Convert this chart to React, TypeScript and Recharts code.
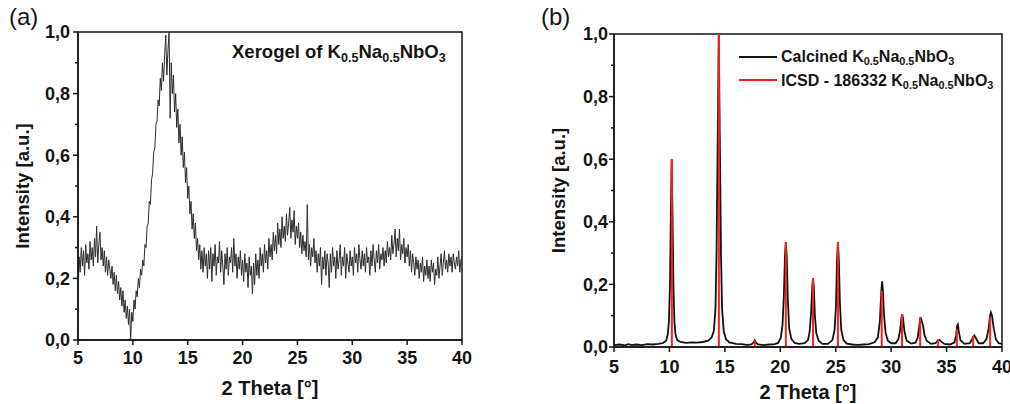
import { LineChart, Line, XAxis, YAxis, ReferenceArea } from "recharts";

const FONT = '"Liberation Sans", Arial, sans-serif';
const INK = "#151515";

// 2θ axis and intensity ticks shared by both panels
const thetaTicks = [5, 10, 15, 20, 25, 30, 35, 40];
const intensityTicks = [0, 0.1, 0.2, 0.3, 0.4, 0.5, 0.6, 0.7, 0.8, 0.9, 1.0];

// (a) xerogel pattern, one reading every 0.1° from 5° to 40°
const xerogelStart = 5;
const xerogelStep = 0.1;
const xerogelIntensity = [
  0.13, 0.27, 0.22, 0.30, 0.24, 0.29, 0.21, 0.31, 0.25, 0.28,
  0.23, 0.32, 0.26, 0.30, 0.24, 0.33, 0.27, 0.37, 0.25, 0.31,
  0.35, 0.26, 0.30, 0.24, 0.29, 0.22, 0.27, 0.21, 0.26, 0.23,
  0.20, 0.24, 0.18, 0.22, 0.16, 0.21, 0.15, 0.19, 0.13, 0.17,
  0.11, 0.16, 0.09, 0.13, 0.07, 0.11, 0.05, 0.10, 0.0, 0.09,
  0.06, 0.13, 0.10, 0.16, 0.14, 0.20, 0.17, 0.23, 0.21, 0.26,
  0.24, 0.31, 0.30, 0.37, 0.38, 0.45, 0.44, 0.52, 0.54, 0.61,
  0.62, 0.70, 0.71, 0.78, 0.76, 0.85, 0.81, 0.90, 0.84, 0.93,
  0.99, 0.86, 0.94, 1.0, 0.72, 0.90, 0.80, 0.86, 0.74, 0.80,
  0.69, 0.75, 0.64, 0.70, 0.60, 0.66, 0.56, 0.61, 0.51, 0.56,
  0.46, 0.50, 0.41, 0.45, 0.36, 0.41, 0.33, 0.38, 0.29, 0.33,
  0.26, 0.31, 0.23, 0.29, 0.22, 0.30, 0.24, 0.28, 0.20, 0.29,
  0.23, 0.30, 0.19, 0.28, 0.24, 0.31, 0.21, 0.27, 0.25, 0.32,
  0.22, 0.29, 0.24, 0.18, 0.28, 0.23, 0.30, 0.21, 0.27, 0.25,
  0.30, 0.22, 0.33, 0.24, 0.28, 0.20, 0.27, 0.23, 0.29, 0.21,
  0.26, 0.19, 0.28, 0.22, 0.25, 0.17, 0.27, 0.21, 0.24, 0.15,
  0.25, 0.18, 0.28, 0.21, 0.26, 0.20, 0.30, 0.24, 0.28, 0.22,
  0.31, 0.25, 0.29, 0.23, 0.33, 0.27, 0.31, 0.26, 0.35, 0.29,
  0.34, 0.28, 0.38, 0.31, 0.36, 0.30, 0.40, 0.33, 0.37, 0.32,
  0.41, 0.34, 0.38, 0.43, 0.33, 0.39, 0.35, 0.42, 0.31, 0.37,
  0.33, 0.38, 0.30, 0.35, 0.28, 0.34, 0.29, 0.32, 0.27, 0.44,
  0.26, 0.31, 0.24, 0.30, 0.27, 0.33, 0.25, 0.29, 0.22, 0.28,
  0.24, 0.30, 0.18, 0.27, 0.23, 0.29, 0.21, 0.28, 0.25, 0.17,
  0.28, 0.22, 0.30, 0.24, 0.27, 0.20, 0.29, 0.23, 0.26, 0.31,
  0.21, 0.27, 0.24, 0.30, 0.20, 0.28, 0.25, 0.22, 0.29, 0.24,
  0.27, 0.21, 0.30, 0.25, 0.28, 0.22, 0.31, 0.26, 0.23, 0.29,
  0.24, 0.28, 0.22, 0.30, 0.25, 0.27, 0.21, 0.29, 0.24, 0.31,
  0.26, 0.22, 0.29, 0.25, 0.31, 0.23, 0.28, 0.26, 0.30, 0.24,
  0.29, 0.25, 0.32, 0.27, 0.30, 0.26, 0.34, 0.28, 0.31, 0.36,
  0.27, 0.33, 0.29, 0.36, 0.26, 0.31, 0.28, 0.33, 0.25, 0.30,
  0.27, 0.31, 0.24, 0.29, 0.22, 0.28, 0.25, 0.21, 0.27, 0.23,
  0.26, 0.20, 0.25, 0.22, 0.27, 0.19, 0.24, 0.21, 0.26, 0.20,
  0.24, 0.19, 0.26, 0.22, 0.25, 0.18, 0.23, 0.21, 0.27, 0.20,
  0.24, 0.28, 0.21, 0.25, 0.29, 0.23, 0.26, 0.22, 0.28, 0.24,
  0.27, 0.22, 0.28, 0.25, 0.23, 0.27, 0.24, 0.29, 0.22, 0.26,
  0.27,
];

// (b) calcined powder, [2θ, intensity]
const calcined: [number, number][] = [
  [5, 0.006], [5.5, 0.008], [6, 0.005], [6.3, 0.009], [6.6, 0.006], [7, 0.008],
  [7.5, 0.006], [8, 0.009], [8.5, 0.008], [9, 0.01], [9.4, 0.012], [9.7, 0.02],
  [9.85, 0.04], [9.95, 0.08], [10.05, 0.2], [10.12, 0.4], [10.2, 0.6], [10.28, 0.42],
  [10.36, 0.2], [10.45, 0.08], [10.55, 0.04], [10.7, 0.022], [11, 0.016], [11.5, 0.013],
  [12, 0.015], [12.5, 0.014], [13, 0.016], [13.5, 0.02], [13.8, 0.03], [14, 0.05],
  [14.15, 0.12], [14.25, 0.3], [14.35, 0.65], [14.45, 1.0], [14.55, 0.65], [14.65, 0.3],
  [14.75, 0.12], [14.9, 0.05], [15.1, 0.025], [15.4, 0.015], [16, 0.01], [16.5, 0.009],
  [17, 0.007], [17.4, 0.008], [17.6, 0.015], [17.7, 0.021], [17.8, 0.014], [18, 0.008],
  [18.5, 0.006], [19, 0.008], [19.5, 0.009], [19.8, 0.013], [20.05, 0.03], [20.2, 0.07],
  [20.32, 0.16], [20.42, 0.29], [20.5, 0.335], [20.58, 0.29], [20.68, 0.15], [20.8, 0.06],
  [21, 0.025], [21.3, 0.013], [21.7, 0.01], [22.2, 0.012], [22.5, 0.022], [22.65, 0.05],
  [22.78, 0.11], [22.88, 0.19], [22.95, 0.22], [23.03, 0.19], [23.12, 0.1], [23.25, 0.045],
  [23.45, 0.02], [23.8, 0.01], [24.3, 0.01], [24.7, 0.022], [24.9, 0.055], [25.02, 0.13],
  [25.12, 0.28], [25.2, 0.335], [25.28, 0.28], [25.38, 0.14], [25.5, 0.055], [25.7, 0.022],
  [26, 0.011], [26.5, 0.008], [27, 0.007], [27.5, 0.008], [28, 0.009], [28.5, 0.015],
  [28.8, 0.03], [28.98, 0.08], [29.1, 0.17], [29.18, 0.21], [29.26, 0.18], [29.36, 0.1],
  [29.5, 0.045], [29.7, 0.02], [30, 0.012], [30.4, 0.012], [30.65, 0.025], [30.82, 0.055],
  [30.93, 0.095], [31, 0.105], [31.08, 0.09], [31.2, 0.05], [31.4, 0.02], [31.8, 0.011],
  [32.2, 0.014], [32.4, 0.03], [32.55, 0.07], [32.65, 0.095], [32.75, 0.085], [32.88, 0.068],
  [33, 0.04], [33.2, 0.02], [33.6, 0.01], [34, 0.012], [34.2, 0.02], [34.35, 0.023],
  [34.5, 0.018], [34.8, 0.01], [35.3, 0.008], [35.7, 0.014], [35.85, 0.035], [35.95, 0.068],
  [36.02, 0.072], [36.1, 0.05], [36.25, 0.022], [36.6, 0.01], [37.1, 0.012], [37.35, 0.028],
  [37.5, 0.037], [37.65, 0.028], [37.9, 0.012], [38.3, 0.012], [38.6, 0.025], [38.8, 0.06],
  [38.92, 0.1], [39, 0.11], [39.1, 0.1], [39.25, 0.06], [39.45, 0.025], [39.7, 0.012],
  [40, 0.01],
];

// ICSD 186332 reference reflections
const icsdTheta = [10.22, 14.46, 17.7, 20.5, 22.95, 25.2, 29.15, 30.98, 32.62, 34.25, 35.93, 37.4, 38.93];
const icsdIntensity = [0.6, 1.0, 0.022, 0.335, 0.22, 0.335, 0.18, 0.105, 0.095, 0.025, 0.058, 0.035, 0.095];

const xerogelData = xerogelIntensity.map((y, i) => ({
  x: +(xerogelStart + i * xerogelStep).toFixed(2),
  y,
}));
const calcinedData = calcined.map(([x, y]) => ({ x, y }));
// each reflection is a vertical stick: 0 -> height, then a gap
const icsdData = icsdTheta.flatMap((x, i) => [
  { x, y: 0 },
  { x, y: icsdIntensity[i] },
  { x, y: null },
]);

const TICK_LEN = 5;
const fmt = (v: number) => v.toFixed(1).replace(".", ",");

const makeYTick = (gap: number) => (props: any) => {
  const { x, y, payload } = props;
  const v = payload.value as number;
  const major = Math.round(v * 10) % 2 === 0;
  const ax = x + TICK_LEN + gap;
  return (
    <g>
      <line x1={ax} x2={ax - (major ? TICK_LEN : 3)} y1={y} y2={y} stroke={INK} strokeWidth={1.5} />
      {major && (
        <text x={x} y={y} dy="0.36em" textAnchor="end" fontSize={18} fontWeight={700} fill={INK} fontFamily={FONT}>
          {fmt(v)}
        </text>
      )}
    </g>
  );
};

const tickFont = { fontSize: 18, fontWeight: 700, fill: INK, fontFamily: FONT };
const titleFont = { fontSize: 20, fontWeight: 700, fill: INK, fontFamily: FONT };

const Sub = ({ children }: { children: string }) => (
  <span style={{ fontSize: "0.68em", verticalAlign: "-0.32em", lineHeight: 0 }}>{children}</span>
);

const Formula = () => (
  <>
    K<Sub>0.5</Sub>Na<Sub>0.5</Sub>NbO<Sub>3</Sub>
  </>
);

const abs = (left: number, top: number, extra: React.CSSProperties = {}): React.CSSProperties => ({
  position: "absolute",
  left,
  top,
  whiteSpace: "nowrap",
  lineHeight: 1,
  color: INK,
  fontFamily: FONT,
  ...extra,
});

export default function App() {
  return (
    <div style={{ position: "absolute", left: 0, top: 0, width: 1010, height: 404, background: "#fff", overflow: "hidden" }}>
      <div style={{ position: "absolute", left: 0, top: 0 }}>
        <LineChart width={480} height={404} margin={{ top: 32, right: 18, bottom: 4, left: 0 }}>
          <XAxis
            type="number"
            dataKey="x"
            domain={[5, 40]}
            ticks={thetaTicks}
            interval={0}
            allowDataOverflow
            height={60}
            tickSize={TICK_LEN}
            tickMargin={6}
            axisLine={{ stroke: INK, strokeWidth: 1.5 }}
            tickLine={{ stroke: INK, strokeWidth: 1.5 }}
            tick={tickFont}
            label={{ value: "2 Theta [°]", position: "insideBottom", offset: 5, ...titleFont }}
          />
          <YAxis
            type="number"
            domain={[0, 1]}
            ticks={intensityTicks}
            interval={0}
            allowDataOverflow
            width={78}
            tickSize={TICK_LEN}
            tickMargin={3}
            tickLine={false}
            axisLine={{ stroke: INK, strokeWidth: 1.5 }}
            tick={makeYTick(3)}
            label={{
              value: "Intensity [a.u.]",
              angle: -90,
              position: "insideLeft",
              offset: 22,
              style: { textAnchor: "middle" },
              ...titleFont,
              fontSize: 18.5,
            }}
          />
          <Line
            data={xerogelData}
            dataKey="y"
            type="linear"
            stroke="#2c2c2c"
            strokeWidth={1}
            dot={false}
            isAnimationActive={false}
          />
          <ReferenceArea x1={5} x2={40} y1={0} y2={1} fill="none" stroke={INK} strokeWidth={1.5} ifOverflow="visible" />
        </LineChart>
      </div>

      <div style={{ position: "absolute", left: 520, top: 0 }}>
        <LineChart width={490} height={404} margin={{ top: 34, right: 8, bottom: 4, left: 0 }}>
          <XAxis
            type="number"
            dataKey="x"
            domain={[5, 40]}
            ticks={thetaTicks}
            interval={0}
            allowDataOverflow
            height={53}
            tickSize={TICK_LEN}
            tickMargin={8}
            axisLine={{ stroke: INK, strokeWidth: 1.5 }}
            tickLine={{ stroke: INK, strokeWidth: 1.5 }}
            tick={tickFont}
            label={{ value: "2 Theta [°]", position: "insideBottom", offset: 1, ...titleFont }}
          />
          <YAxis
            type="number"
            domain={[0, 1]}
            ticks={intensityTicks}
            interval={0}
            allowDataOverflow
            width={94}
            tickSize={TICK_LEN}
            tickMargin={1}
            tickLine={false}
            axisLine={{ stroke: INK, strokeWidth: 1.5 }}
            tick={makeYTick(1)}
            label={{
              value: "Intensity [a.u.]",
              angle: -90,
              position: "insideLeft",
              offset: 38,
              style: { textAnchor: "middle" },
              ...titleFont,
              fontSize: 18.5,
            }}
          />
          <Line
            data={calcinedData}
            dataKey="y"
            type="linear"
            stroke="#111"
            strokeWidth={1.8}
            dot={false}
            isAnimationActive={false}
          />
          <Line
            data={icsdData}
            dataKey="y"
            type="linear"
            stroke="#ff1f1f"
            strokeWidth={2}
            dot={false}
            connectNulls={false}
            isAnimationActive={false}
          />
          <ReferenceArea x1={5} x2={40} y1={0} y2={1} fill="none" stroke={INK} strokeWidth={1.5} ifOverflow="visible" />
        </LineChart>
      </div>

      {/* panel letters */}
      <div style={abs(9, 5, { fontSize: 24 })}>(a)</div>
      <div style={abs(541, 5, { fontSize: 24 })}>(b)</div>

      {/* annotation in (a) */}
      <div style={abs(232, 43, { fontSize: 18.5, fontWeight: 700 })}>
        Xerogel of <Formula />
      </div>

      {/* legend in (b) */}
      <div style={{ position: "absolute", left: 739, top: 56, width: 38, height: 2, background: "#111" }} />
      <div style={abs(781, 49, { fontSize: 16, fontWeight: 700 })}>
        Calcined <Formula />
      </div>
      <div style={{ position: "absolute", left: 739, top: 79, width: 38, height: 2, background: "#ff1f1f" }} />
      <div style={abs(781, 73, { fontSize: 16, fontWeight: 700 })}>
        ICSD - 186332 <Formula />
      </div>
    </div>
  );
}
